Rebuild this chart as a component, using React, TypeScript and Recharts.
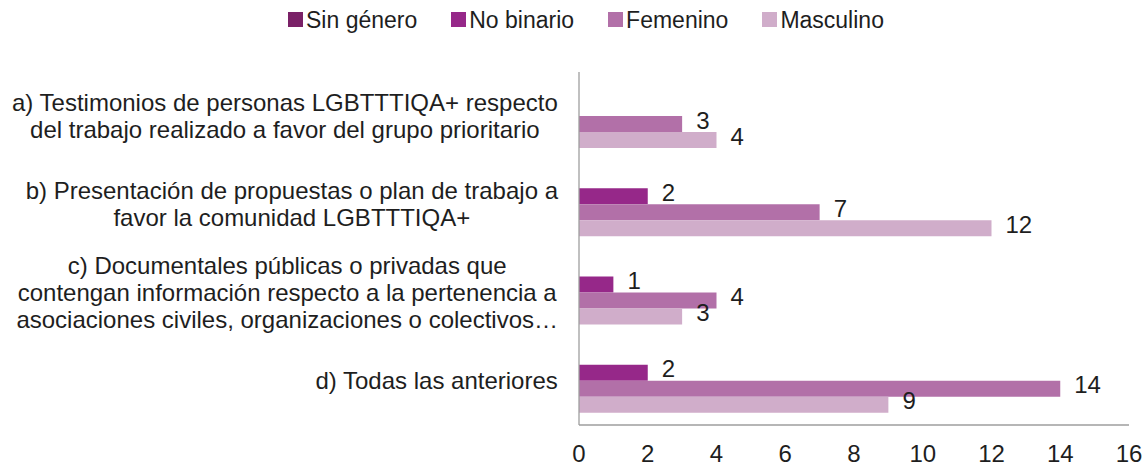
import React from "react";
import { BarChart, Bar, XAxis, YAxis, Legend, LabelList } from "recharts";

const categories = [
  "a) Testimonios de personas LGBTTTIQA+ respecto\ndel trabajo realizado a favor del grupo prioritario",
  "b) Presentación de propuestas o plan de trabajo a\nfavor la comunidad LGBTTTIQA+",
  "c) Documentales públicas o privadas que\ncontengan información respecto a la pertenencia a\nasociaciones civiles, organizaciones o colectivos…",
  "d) Todas las anteriores",
];

const seriesNames = ["Sin género", "No binario", "Femenino", "Masculino"];
const sinGenero: (number | null)[] = [null, null, null, null];
const noBinario: (number | null)[] = [null, 2, 1, 2];
const femenino: (number | null)[] = [3, 7, 4, 14];
const masculino: (number | null)[] = [4, 12, 3, 9];
const xTicks = [0, 2, 4, 6, 8, 10, 12, 14, 16];

const colors = ["#7A2167", "#962889", "#B270A8", "#D0ADCA"];
const keys = ["sinGenero", "noBinario", "femenino", "masculino"];

const data = categories.map((c, i) => ({
  category: c,
  sinGenero: sinGenero[i],
  noBinario: noBinario[i],
  femenino: femenino[i],
  masculino: masculino[i],
}));

const FONT = "'Liberation Sans', Arial, sans-serif";
const TEXT = "#1E1E1E";

let canvasCtx: CanvasRenderingContext2D | null = null;
function measure(text: string, size: number): number {
  if (!canvasCtx) {
    const c = document.createElement("canvas");
    canvasCtx = c.getContext("2d");
  }
  if (!canvasCtx) return text.length * size * 0.5;
  canvasCtx.font = `${size}px 'Liberation Sans', Arial, sans-serif`;
  return canvasCtx.measureText(text).width;
}

const CategoryTick = (props: any) => {
  const { x, y, payload } = props;
  const lines: string[] = String(payload.value).split("\n");
  const fs = 24;
  const lh = 27;
  const widths = lines.map((l) => measure(l, fs));
  const maxW = Math.max(...widths);
  const right = x - 21;
  const cx = right - maxW / 2;
  const n = lines.length;
  return (
    <g>
      {lines.map((l, i) => (
        <text
          key={i}
          x={cx}
          y={y + (i - (n - 1) / 2) * lh + fs * 0.358}
          textAnchor="middle"
          fontSize={fs}
          fontFamily={FONT}
          fill={TEXT}
        >
          {l}
        </text>
      ))}
    </g>
  );
};

const NumberTick = (props: any) => {
  const { x, y, payload } = props;
  return (
    <text x={x} y={y + 37} textAnchor="middle" fontSize={24} fontFamily={FONT} fill={TEXT}>
      {payload.value}
    </text>
  );
};

const renderValueLabel = (props: any) => {
  const { x, y, width, height, value } = props;
  if (value === null || value === undefined) return null;
  return (
    <text
      x={x + width + 14}
      y={y + height / 2 - 4 + 24 * 0.358}
      textAnchor="start"
      fontSize={24}
      fontFamily={FONT}
      fill={TEXT}
    >
      {value}
    </text>
  );
};

const renderLegend = () => (
  <div
    style={{
      display: "flex",
      alignItems: "center",
      height: 30,
      paddingLeft: 288,
      fontFamily: FONT,
      fontSize: 23,
      color: TEXT,
    }}
  >
    {seriesNames.map((name, i) => (
      <div key={name} style={{ display: "flex", alignItems: "center", marginRight: 34 }}>
        <span
          style={{
            display: "inline-block",
            width: 15,
            height: 15,
            background: colors[i],
            marginRight: 3,
            marginTop: -2,
          }}
        />
        <span style={{ lineHeight: "30px" }}>{name}</span>
      </div>
    ))}
  </div>
);

export default function App() {
  return (
    <div style={{ position: "absolute", left: 0, top: 0, width: 1146, height: 466, background: "#ffffff" }}>
      <BarChart
        width={1146}
        height={466}
        data={data}
        layout="vertical"
        margin={{ top: 42, right: 17, bottom: 0, left: 0 }}
        barGap={0}
        barSize={16}
      >
        <Legend
          verticalAlign="top"
          align="left"
          content={renderLegend}
          wrapperStyle={{ top: 5, left: 0, width: 1146 }}
        />
        <XAxis
          type="number"
          domain={[0, 16]}
          ticks={xTicks}
          interval={0}
          axisLine={{ stroke: "#9E9E9E", strokeWidth: 1.3 }}
          tickLine={false}
          tickSize={0}
          tickMargin={0}
          height={41}
          tick={<NumberTick />}
        />
        <YAxis
          type="category"
          dataKey="category"
          width={579}
          axisLine={{ stroke: "#9E9E9E", strokeWidth: 1.3 }}
          tickLine={false}
          tickSize={0}
          tickMargin={0}
          interval={0}
          tick={<CategoryTick />}
        />
        {keys.map((k, i) => (
          <Bar key={k} dataKey={k} name={seriesNames[i]} fill={colors[i]} isAnimationActive={false}>
            <LabelList dataKey={k} content={renderValueLabel} />
          </Bar>
        ))}
      </BarChart>
    </div>
  );
}
